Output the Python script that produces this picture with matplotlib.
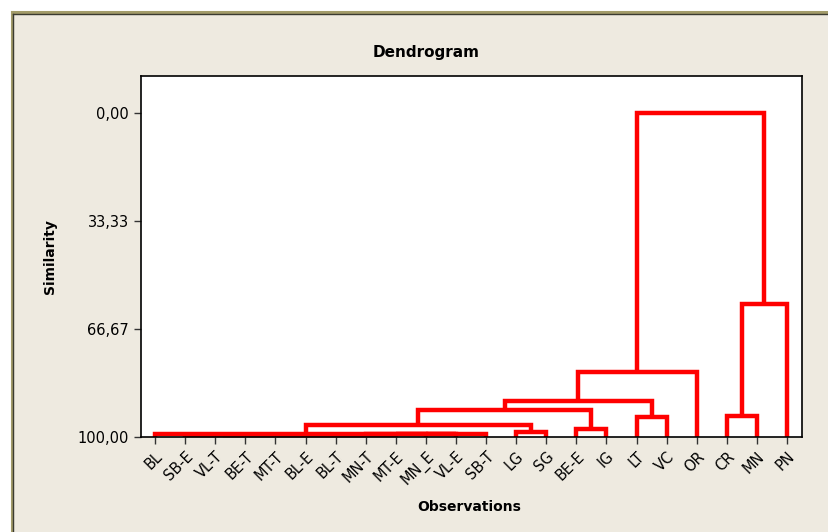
"""Minitab-style dendrogram of observations (similarity scale)."""

import matplotlib
matplotlib.use('Agg')
import matplotlib.pyplot as plt
from matplotlib.patches import Rectangle
from matplotlib.lines import Line2D

leaves = ['BL', 'SB-E', 'VL-T', 'BE-T', 'MT-T', 'BL-E', 'BL-T', 'MN-T', 'MT-E',
          'MN_E', 'VL-E', 'SB-T', 'LG', 'SG', 'BE-E', 'IG', 'LT', 'VC', 'OR',
          'CR', 'MN', 'PN']

# merges: (left, right, similarity); ints >= 100 refer to earlier merge (100 + index)
merge_left = ['SB-E', 100, 101, 102, 103, 104, 105, 106, 107, 108, 'BL',
              'LG', 110, 'BE-E', 112, 'LT', 114, 116, 'CR', 118, 117]
merge_right = ['VL-T', 'BE-T', 'MT-T', 'BL-E', 'BL-T', 'MN-T', 'MT-E', 'MN_E',
               'VL-E', 'SB-T', 109, 'SG', 111, 'IG', 113, 'VC', 115, 'OR',
               'MN', 'PN', 119]
merge_sim = [99.5, 99.5, 99.4, 99.4, 99.3, 99.3, 99.3, 99.2, 99.2, 99.2, 99.0,
             98.5, 96.3, 97.5, 91.7, 93.8, 88.9, 79.9, 93.5, 59.0, 0.0]

ytick_vals = [0.0, 33.33, 66.67, 100.0]
ytick_labels = ['0,00', '33,33', '66,67', '100,00']

W, H = 829, 532
fig = plt.figure(figsize=(W / 100, H / 100), dpi=100, facecolor='white')

# beige panel with olive frame
fx0, fy1 = 12 / W, 1 - 12 / H
fig.add_artist(Rectangle((fx0, 0), 1 - fx0, fy1, transform=fig.transFigure,
                         facecolor='#EEEAE0', edgecolor='none', zorder=-10))
for off, col, lw in [(0.0, '#A39C6A', 2.2), (1.5, '#3a3a30', 1.0)]:
    fig.add_artist(Line2D([fx0 + off / W, fx0 + off / W], [0, fy1 - off / H],
                          transform=fig.transFigure, color=col, lw=lw, zorder=-5))
    fig.add_artist(Line2D([fx0 + off / W, 1], [fy1 - off / H, fy1 - off / H],
                          transform=fig.transFigure, color=col, lw=lw, zorder=-5))

ax = fig.add_axes([141 / W, 1 - 437 / H, (802 - 141) / W, (437 - 76) / H])
ax.set_zorder(5)
ax.set_facecolor('white')

pos = {name: (i, 100.0) for i, name in enumerate(leaves)}


def node(k):
    return pos[k] if isinstance(k, str) else pos[('m', k - 100)]


for i, (a, b, s) in enumerate(zip(merge_left, merge_right, merge_sim)):
    (xa, ya), (xb, yb) = node(a), node(b)
    ax.plot([xa, xa, xb, xb], [ya, s, s, yb], color='red', lw=3.2,
            solid_joinstyle='miter', solid_capstyle='butt', clip_on=False)
    pos[('m', i)] = ((xa + xb) / 2, s)

ax.set_xlim(-0.47, 21.5)
ax.set_ylim(100, -11.4)
ax.set_yticks(ytick_vals)
ax.set_yticklabels(ytick_labels, fontsize=10.5)
ax.set_xticks(range(len(leaves)))
ax.set_xticklabels(leaves, rotation=45, ha='right', va='top',
                   rotation_mode='anchor', fontsize=10.5)
ax.tick_params(direction='out', length=5, width=1, color='#333333')
for sp in ax.spines.values():
    sp.set_linewidth(1.2)

fig.text(426 / W, 1 - 52 / H, 'Dendrogram', ha='center', va='center',
         fontsize=11, fontweight='bold')
fig.text(50 / W, 1 - 257 / H, 'Similarity', ha='center', va='center',
         rotation=90, fontsize=10, fontweight='bold')
fig.text(469 / W, 1 - 507 / H, 'Observations', ha='center', va='center',
         fontsize=10, fontweight='bold')

fig.savefig('out.png', dpi=100, facecolor=fig.get_facecolor())
